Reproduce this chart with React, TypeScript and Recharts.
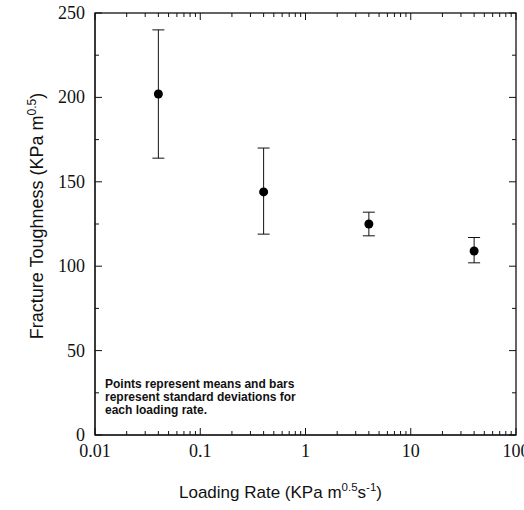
import { ScatterChart, Scatter, XAxis, YAxis, ErrorBar, Label, Customized } from "recharts";

// loading rate (KPa m^0.5 s^-1) and fracture toughness (KPa m^0.5)
const loadingRate = [0.04, 0.4, 4, 40];
const meanToughness = [202, 144, 125, 109];
const upperSd = [240, 170, 132, 117];
const lowerSd = [164, 119, 118, 102];

const xMajorTicks = [0.01, 0.1, 1, 10, 100];
const xMinorFactors = [2, 3, 4, 5, 6, 7, 8, 9];
const yMajorTicks = [0, 50, 100, 150, 200, 250];
const yMinorTicks = [25, 75, 125, 175, 225];

const noteLines = [
  "Points represent means and bars",
  "represent standard deviations for",
  "each loading rate.",
];

const xAllTicks = [
  ...xMajorTicks,
  ...xMajorTicks.slice(0, -1).flatMap((d) => xMinorFactors.map((m) => +(d * m).toPrecision(2))),
];
const yAllTicks = [...yMajorTicks, ...yMinorTicks];

const data = loadingRate.map((rate, i) => ({
  rate,
  mean: meanToughness[i],
  sd: [meanToughness[i] - lowerSd[i], upperSd[i] - meanToughness[i]],
}));

const W = 524;
const H = 510;
const MARGIN_TOP = 13;
const MARGIN_RIGHT = 8;
const Y_AXIS_W = 95;
const X_AXIS_H = 75;
const PLOT_W = W - MARGIN_RIGHT - Y_AXIS_W;
const PLOT_H = H - MARGIN_TOP - X_AXIS_H;

const INK = "#111";
const SERIF = "'Liberation Serif', 'Times New Roman', serif";
const SANS = "'Liberation Sans', Arial, sans-serif";

const isMajorX = (v: number) => xMajorTicks.some((t) => Math.abs(t - v) < t * 1e-6);
const isMajorY = (v: number) => yMajorTicks.includes(v);

// bottom tick, plus its mirror on the top edge of the frame
function BottomTick({ x, y, payload }: any) {
  const major = isMajorX(payload.value);
  const len = major ? 7 : 4;
  const top = Number(y) - PLOT_H;
  return (
    <g>
      <line x1={x} x2={x} y1={y} y2={Number(y) - len} stroke={INK} />
      <line x1={x} x2={x} y1={top} y2={top + len} stroke={INK} />
      {major && (
        <text x={x} y={Number(y) + 22} textAnchor="middle" fontFamily={SERIF} fontSize={18} fill={INK}>
          {String(payload.value)}
        </text>
      )}
    </g>
  );
}

// left tick, plus its mirror on the right edge
function LeftTick({ x, y, payload }: any) {
  const major = isMajorY(payload.value);
  const len = major ? 7 : 4;
  const right = Number(x) + PLOT_W;
  return (
    <g>
      <line x1={x} x2={Number(x) + len} y1={y} y2={y} stroke={INK} />
      <line x1={right} x2={right - len} y1={y} y2={y} stroke={INK} />
      {major && (
        <text x={Number(x) - 10} y={Number(y) + 6} textAnchor="end" fontFamily={SERIF} fontSize={18} fill={INK}>
          {payload.value}
        </text>
      )}
    </g>
  );
}

function FrameAndNote() {
  return (
    <g>
      <rect x={Y_AXIS_W} y={MARGIN_TOP} width={PLOT_W} height={PLOT_H} fill="none" stroke={INK} strokeWidth={1.3} />
      <text fontFamily={SANS} fontSize={12} fontWeight="bold" fill={INK}>
        {noteLines.map((line, i) => (
          <tspan key={i} x={105} y={388 + i * 13}>
            {line}
          </tspan>
        ))}
      </text>
    </g>
  );
}

export default function App() {
  return (
    <div style={{ width: W, height: H, overflow: "hidden" }}>
      <style>{"body{margin:0;overflow:hidden} svg{display:block}"}</style>
      <ScatterChart width={W} height={H} margin={{ top: MARGIN_TOP, right: MARGIN_RIGHT, bottom: 0, left: 0 }}>
        <XAxis
          dataKey="rate"
          type="number"
          scale="log"
          domain={[0.01, 100]}
          allowDataOverflow
          ticks={xAllTicks}
          interval={0}
          tickSize={0}
          tickMargin={0}
          tickLine={false}
          tick={<BottomTick />}
          height={X_AXIS_H}
          axisLine={{ stroke: INK }}
        >
          <Label
            content={({ viewBox }: any) => (
              <text x={viewBox.x + 84} y={viewBox.y + 63} fontFamily={SANS} fontSize={17} fill={INK}>
                Loading Rate (KPa m
                <tspan dy={-7} fontSize={11.5}>0.5</tspan>
                <tspan dy={7}>s</tspan>
                <tspan dy={-7} fontSize={11.5}>-1</tspan>
                <tspan dy={7}>)</tspan>
              </text>
            )}
          />
        </XAxis>
        <YAxis
          dataKey="mean"
          type="number"
          domain={[0, 250]}
          ticks={yAllTicks}
          interval={0}
          tickSize={0}
          tickMargin={0}
          tickLine={false}
          tick={<LeftTick />}
          width={Y_AXIS_W}
          axisLine={{ stroke: INK }}
        >
          <Label
            content={({ viewBox }: any) => {
              const cx = 43;
              const cy = viewBox.y + viewBox.height / 2 - 8;
              return (
                <text
                  x={cx}
                  y={cy}
                  transform={`rotate(-90 ${cx} ${cy})`}
                  textAnchor="middle"
                  fontFamily={SANS}
                  fontSize={18}
                  fill={INK}
                >
                  Fracture Toughness (KPa m
                  <tspan dy={-7} fontSize={12}>0.5</tspan>
                  <tspan dy={7}>)</tspan>
                </text>
              );
            }}
          />
        </YAxis>
        <Scatter
          data={data}
          isAnimationActive={false}
          fill="#000"
          shape={(p: any) => <circle cx={p.cx} cy={p.cy} r={4.5} fill="#000" />}
        >
          <ErrorBar dataKey="sd" direction="y" width={6} stroke={INK} strokeWidth={1} isAnimationActive={false} />
        </Scatter>
        <Customized component={<FrameAndNote />} />
      </ScatterChart>
    </div>
  );
}
